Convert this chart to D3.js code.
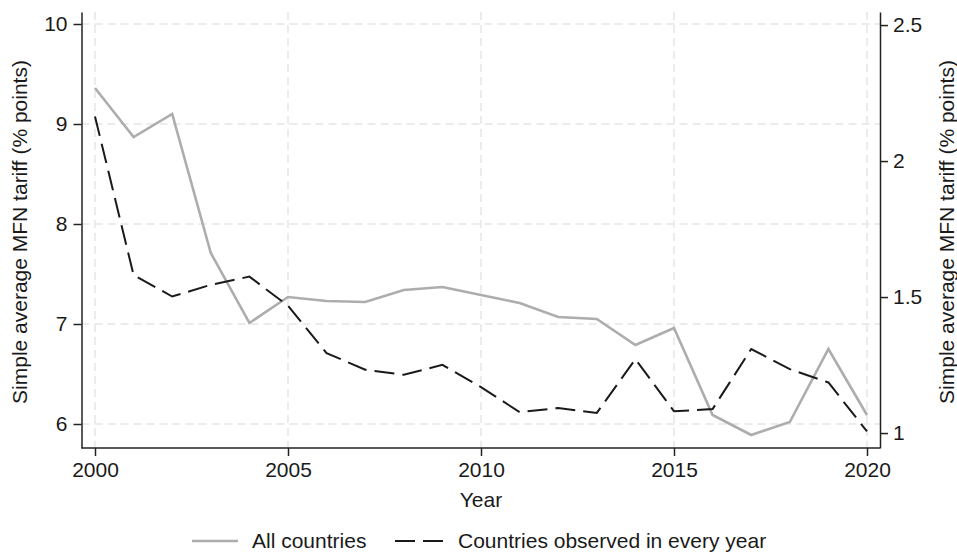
<!DOCTYPE html>
<html>
<head>
<meta charset="utf-8">
<script src="https://cdn.jsdelivr.net/npm/d3@7"></script>
<style>
  html, body { margin: 0; padding: 0; background: #fff; }
  svg { display: block; font-family: "Liberation Sans", Arial, sans-serif; }
</style>
</head>
<body>
<svg id="chart" width="957" height="552"></svg>
<script>
// Years on the horizontal axis
const years = [2000, 2001, 2002, 2003, 2004, 2005, 2006, 2007, 2008, 2009, 2010,
               2011, 2012, 2013, 2014, 2015, 2016, 2017, 2018, 2019, 2020];

// Simple average MFN tariff, all countries (left axis)
const allCountries = [9.36, 8.87, 9.10, 7.71, 7.01, 7.27, 7.23, 7.22, 7.34, 7.37, 7.29,
                      7.21, 7.07, 7.05, 6.79, 6.96, 6.09, 5.89, 6.02, 6.75, 6.09];

// Simple average MFN tariff, countries observed in every year (right axis)
const balancedPanel = [2.164, 1.581, 1.502, 1.545, 1.575, 1.468, 1.294, 1.233, 1.214, 1.251, 1.169,
                       1.077, 1.092, 1.074, 1.272, 1.080, 1.088, 1.309, 1.235, 1.186, 1.006];

const xTicks = [2000, 2005, 2010, 2015, 2020];
const leftTicks = [6, 7, 8, 9, 10];
const rightTicks = [1, 1.5, 2, 2.5];
const rightTickLabels = ["1", "1.5", "2", "2.5"];

const yTitle = "Simple average MFN tariff (% points)";
const xTitle = "Year";
const legendLabels = ["All countries", "Countries observed in every year"];

const svg = d3.select("#chart");
const plot = { left: 81.5, right: 880, top: 12, bottom: 448 };
const fontSize = 21;
const textColor = "#1a1a1a";

const x = d3.scaleLinear().domain([2000, 2020]).range([95, 867]);
const yL = d3.scaleLinear().domain([5.76, 10.12]).range([plot.bottom, plot.top]);
const yR = d3.scaleLinear().domain([0.945, 2.548]).range([plot.bottom, plot.top]);

// Grid lines
const grid = svg.append("g")
  .attr("stroke", "#e6e6e6").attr("stroke-width", 1.5).attr("stroke-dasharray", "8,5");
grid.selectAll("line.h").data(leftTicks).join("line")
  .attr("x1", plot.left).attr("x2", plot.right)
  .attr("y1", d => yL(d)).attr("y2", d => yL(d));
grid.selectAll("line.v").data(xTicks).join("line")
  .attr("x1", d => x(d)).attr("x2", d => x(d))
  .attr("y1", plot.top).attr("y2", plot.bottom);

// Series lines
const lineAll = d3.line().x((d, i) => x(years[i])).y(d => yL(d));
const linePanel = d3.line().x((d, i) => x(years[i])).y(d => yR(d));

svg.append("path").datum(allCountries)
  .attr("d", lineAll).attr("fill", "none")
  .attr("stroke", "#adadad").attr("stroke-width", 2.6).attr("stroke-linejoin", "miter");

svg.append("path").datum(balancedPanel)
  .attr("d", linePanel).attr("fill", "none")
  .attr("stroke", "#1a1a1a").attr("stroke-width", 2).attr("stroke-dasharray", "20,8");

// Axes
function styleAxis(g) {
  g.select(".domain").attr("stroke", "#222").attr("stroke-width", 1.5);
  g.selectAll(".tick line").attr("stroke", "#222").attr("stroke-width", 1.5);
  g.selectAll(".tick text").attr("fill", textColor)
    .style("font-size", fontSize + "px").style("font-family", "'Liberation Sans', Arial, sans-serif");
}

const gx = svg.append("g").attr("transform", `translate(0,${plot.bottom})`)
  .call(d3.axisBottom(x).tickValues(xTicks).tickFormat(d3.format("d"))
        .tickSizeInner(8).tickSizeOuter(0).tickPadding(6));
gx.select(".domain").attr("d", `M${plot.left},0H${plot.right}`);
styleAxis(gx);

const gl = svg.append("g").attr("transform", `translate(${plot.left},0)`)
  .call(d3.axisLeft(yL).tickValues(leftTicks).tickFormat(d3.format("d"))
        .tickSizeInner(8).tickSizeOuter(0).tickPadding(6));
styleAxis(gl);

const gr = svg.append("g").attr("transform", `translate(${plot.right},0)`)
  .call(d3.axisRight(yR).tickValues(rightTicks).tickFormat((d, i) => rightTickLabels[i])
        .tickSizeInner(8).tickSizeOuter(0).tickPadding(5));
styleAxis(gr);

// Axis titles
svg.append("text")
  .attr("transform", `translate(27,${(plot.top + plot.bottom) / 2 + 2}) rotate(-90)`)
  .attr("text-anchor", "middle").attr("fill", textColor)
  .style("font-size", fontSize + "px").text(yTitle);

svg.append("text")
  .attr("transform", `translate(954,${(plot.top + plot.bottom) / 2 + 2}) rotate(-90)`)
  .attr("text-anchor", "middle").attr("fill", textColor)
  .style("font-size", fontSize + "px").text(yTitle);

svg.append("text")
  .attr("x", x(2010)).attr("y", 507)
  .attr("text-anchor", "middle").attr("fill", textColor)
  .style("font-size", fontSize + "px").text(xTitle);

// Legend
const legendY = 541;
const legend = svg.append("g");
legend.append("line")
  .attr("x1", 192).attr("x2", 238).attr("y1", legendY).attr("y2", legendY)
  .attr("stroke", "#adadad").attr("stroke-width", 2.6);
legend.append("text")
  .attr("x", 252).attr("y", legendY + 7).attr("fill", textColor)
  .style("font-size", fontSize + "px").text(legendLabels[0]);
legend.append("line")
  .attr("x1", 395).attr("x2", 443).attr("y1", legendY).attr("y2", legendY)
  .attr("stroke", "#1a1a1a").attr("stroke-width", 2).attr("stroke-dasharray", "20,8");
legend.append("text")
  .attr("x", 458).attr("y", legendY + 7).attr("fill", textColor)
  .style("font-size", fontSize + "px").text(legendLabels[1]);
</script>
</body>
</html>
